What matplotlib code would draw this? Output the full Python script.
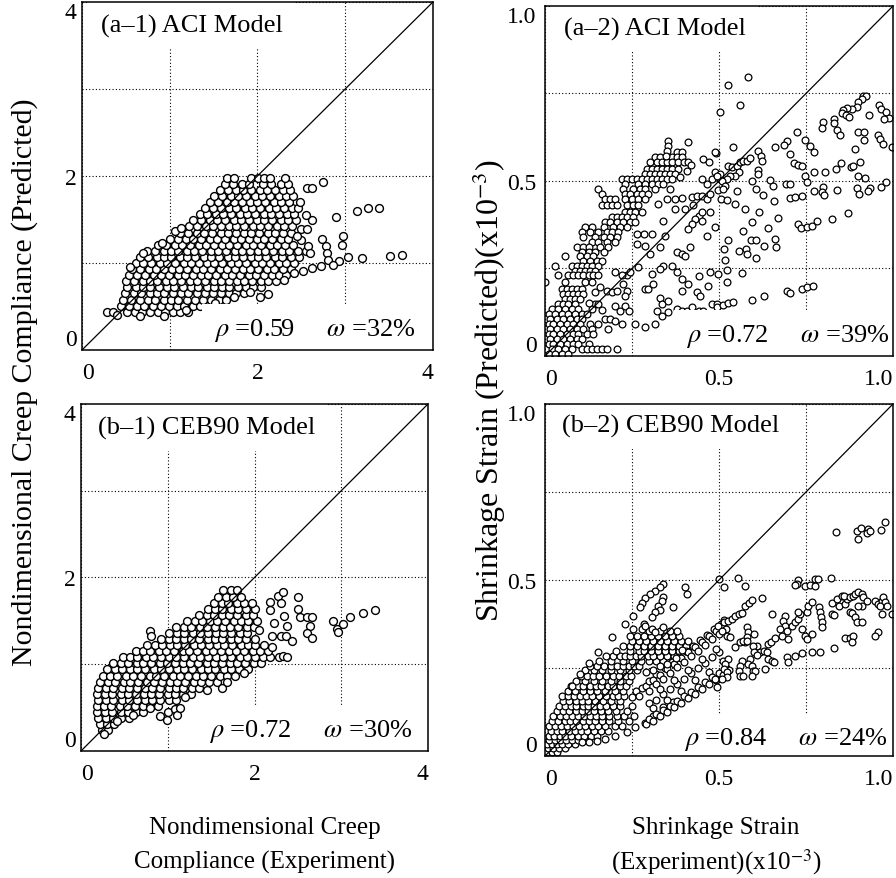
import matplotlib
matplotlib.use("Agg")
import matplotlib.pyplot as plt
import numpy as np

plt.rcParams["font.family"] = ["Liberation Serif", "DejaVu Serif"]
plt.rcParams["mathtext.fontset"] = "stix"

# ---------------- data ----------------
# creep panels: dense blob given row by row (y, [x ...]) plus loose points

a1_rows = [
    (0.44, [0.28, 0.35, 0.51, 0.60, 0.68, 0.77, 0.87, 0.95, 1.04, 1.12, 1.21]),
    (0.51, [0.44, 0.54, 0.63, 0.71, 0.81, 0.90, 0.99, 1.08, 1.16, 1.26, 1.35, 1.44]),
    (0.58, [0.47, 0.56, 0.66, 0.75, 0.83, 0.93, 1.02, 1.10, 1.20, 1.29, 1.38, 1.47, 1.56, 1.64]),
    (0.65, [0.49, 0.59, 0.67, 0.77, 0.86, 0.94, 1.04, 1.13, 1.21, 1.31, 1.40, 1.49, 1.58, 1.67, 1.75, 1.85]),
    (0.72, [0.51, 0.61, 0.70, 0.78, 0.88, 0.97, 1.05, 1.15, 1.24, 1.32, 1.42, 1.51, 1.60, 1.68, 1.78, 1.87, 1.95, 2.04]),
    (0.79, [0.50, 0.59, 0.69, 0.77, 0.86, 0.96, 1.04, 1.13, 1.23, 1.31, 1.40, 1.50, 1.58, 1.67, 1.77, 1.85, 1.94, 2.04, 2.12, 2.21]),
    (0.86, [0.54, 0.63, 0.72, 0.82, 0.90, 0.99, 1.09, 1.17, 1.26, 1.36, 1.44, 1.53, 1.63, 1.71, 1.80, 1.90, 1.98, 2.07, 2.17, 2.25, 2.33]),
    (0.93, [0.57, 0.66, 0.76, 0.84, 0.93, 1.03, 1.11, 1.20, 1.30, 1.38, 1.47, 1.57, 1.65, 1.74, 1.84, 1.92, 2.01, 2.11, 2.19, 2.29, 2.38]),
    (1.00, [0.61, 0.70, 0.79, 0.89, 0.97, 1.06, 1.16, 1.24, 1.33, 1.43, 1.51, 1.60, 1.70, 1.78, 1.87, 1.97, 2.05, 2.14, 2.24, 2.32, 2.42]),
    (1.07, [0.66, 0.75, 0.85, 0.93, 1.02, 1.12, 1.20, 1.29, 1.39, 1.47, 1.56, 1.66, 1.74, 1.83, 1.93, 2.01, 2.10, 2.20, 2.28, 2.38, 2.47]),
    (1.14, [0.74, 0.83, 0.93, 1.01, 1.10, 1.20, 1.28, 1.37, 1.47, 1.55, 1.64, 1.74, 1.82, 1.91, 2.01, 2.09, 2.18, 2.28, 2.36, 2.46, 2.55]),
    (1.21, [0.87, 0.96, 1.06, 1.14, 1.23, 1.33, 1.41, 1.50, 1.60, 1.68, 1.77, 1.87, 1.95, 2.04, 2.14, 2.22, 2.31, 2.41]),
    (1.28, [1.00, 1.09, 1.19, 1.27, 1.36, 1.46, 1.54, 1.63, 1.73, 1.81, 1.90, 2.00, 2.08, 2.17, 2.27, 2.35]),
    (1.35, [1.12, 1.21, 1.31, 1.39, 1.48, 1.58, 1.66, 1.75, 1.85, 1.93, 2.02, 2.12, 2.20, 2.29, 2.38]),
    (1.42, [1.22, 1.31, 1.41, 1.49, 1.58, 1.68, 1.76, 1.85, 1.95, 2.03, 2.12, 2.22, 2.30, 2.39]),
    (1.49, [1.27, 1.36, 1.46, 1.54, 1.63, 1.73, 1.81, 1.90, 2.00, 2.08, 2.17, 2.27, 2.35, 2.44]),
    (1.56, [1.34, 1.43, 1.53, 1.61, 1.70, 1.80, 1.88, 1.97, 2.07, 2.15, 2.24, 2.34, 2.42]),
    (1.63, [1.40, 1.49, 1.59, 1.67, 1.76, 1.86, 1.94, 2.03, 2.13, 2.21, 2.30, 2.39, 2.46]),
    (1.70, [1.46, 1.55, 1.65, 1.73, 1.82, 1.92, 2.00, 2.09, 2.19, 2.27, 2.36]),
    (1.77, [1.51, 1.60, 1.70, 1.78, 1.87, 1.97, 2.05, 2.14, 2.24, 2.32, 2.40]),
    (1.84, [1.57, 1.66, 1.76, 1.84, 1.93, 2.03, 2.11, 2.20, 2.29, 2.37]),
    (1.91, [1.63, 1.72, 1.82, 1.90, 2.06, 2.15, 2.27, 2.35]),
    (1.98, [1.65, 1.73, 1.93, 2.01, 2.08, 2.14, 2.31]),
]
a1_extra = [
    (0.91, 1.23), (1.06, 1.37), (1.13, 1.40), (2.56, 1.86), (2.62, 1.86), (2.75, 1.93),
    (3.13, 1.60), (3.26, 1.63), (3.38, 1.63), (2.90, 1.53), (2.62, 1.49), (2.50, 1.39),
    (2.56, 1.39), (2.97, 1.31), (2.74, 1.28), (2.96, 1.21), (2.78, 1.20), (2.79, 1.12),
    (2.80, 1.04), (3.03, 1.07), (3.19, 1.06), (3.51, 1.08), (3.65, 1.09), (2.93, 1.02),
    (2.62, 0.94), (2.72, 0.97), (2.52, 0.91), (2.42, 0.88), (2.58, 1.20), (2.60, 1.12),
    (2.50, 1.26), (2.45, 1.31), (2.55, 1.55), (2.48, 1.70), (2.12, 0.64), (2.03, 0.61),
    (2.30, 0.80), (2.86, 0.98), (0.40, 0.40), (0.66, 0.39), (0.93, 0.39), (1.18, 0.46),
    (1.52, 0.54), (1.73, 0.61), (1.92, 0.67), (0.55, 0.95), (0.70, 1.11),
]

b1_rows = [
    (0.24, [0.24, 0.31]),
    (0.31, [0.22, 0.30, 0.38]),
    (0.38, [0.20, 0.29, 0.37, 0.46, 0.55]),
    (0.45, [0.19, 0.28, 0.36, 0.46, 0.54, 0.63, 0.72]),
    (0.52, [0.18, 0.27, 0.35, 0.45, 0.53, 0.62, 0.72, 0.80, 0.89]),
    (0.59, [0.20, 0.29, 0.37, 0.47, 0.55, 0.64, 0.74, 0.82, 0.91, 1.01, 1.09]),
    (0.66, [0.19, 0.28, 0.36, 0.46, 0.54, 0.63, 0.73, 0.81, 0.90, 1.00, 1.08, 1.17, 1.27]),
    (0.73, [0.20, 0.29, 0.37, 0.47, 0.55, 0.64, 0.74, 0.82, 0.91, 1.01, 1.09, 1.18, 1.28, 1.36]),
    (0.80, [0.22, 0.31, 0.39, 0.49, 0.57, 0.66, 0.76, 0.84, 0.93, 1.03, 1.11, 1.20, 1.30, 1.38, 1.47, 1.57]),
    (0.87, [0.25, 0.34, 0.42, 0.52, 0.60, 0.69, 0.79, 0.87, 0.96, 1.06, 1.14, 1.23, 1.33, 1.41, 1.50, 1.60, 1.68, 1.77]),
    (0.94, [0.30, 0.39, 0.47, 0.57, 0.65, 0.74, 0.84, 0.92, 1.01, 1.11, 1.19, 1.28, 1.38, 1.46, 1.55, 1.65, 1.73, 1.82, 1.92]),
    (1.01, [0.37, 0.46, 0.54, 0.64, 0.72, 0.81, 0.91, 0.99, 1.08, 1.18, 1.26, 1.35, 1.45, 1.53, 1.62, 1.72, 1.80, 1.89, 1.99, 2.08]),
    (1.08, [0.48, 0.57, 0.65, 0.75, 0.83, 0.92, 1.02, 1.10, 1.19, 1.29, 1.37, 1.46, 1.56, 1.64, 1.73, 1.83, 1.91, 2.00, 2.10, 2.18, 2.28]),
    (1.15, [0.63, 0.72, 0.80, 0.90, 0.98, 1.07, 1.17, 1.25, 1.34, 1.44, 1.52, 1.61, 1.71, 1.79, 1.88, 1.98, 2.06, 2.16]),
    (1.22, [0.76, 0.85, 0.93, 1.03, 1.11, 1.20, 1.30, 1.38, 1.47, 1.57, 1.65, 1.74, 1.84, 1.92, 2.01, 2.11]),
    (1.29, [0.92, 1.01, 1.09, 1.19, 1.27, 1.36, 1.46, 1.54, 1.63, 1.73, 1.81, 1.90, 2.00]),
    (1.36, [1.02, 1.11, 1.19, 1.29, 1.37, 1.46, 1.56, 1.64, 1.73, 1.83, 1.91]),
    (1.43, [1.10, 1.19, 1.27, 1.37, 1.45, 1.54, 1.64, 1.72, 1.81, 1.91, 1.99]),
    (1.50, [1.22, 1.31, 1.39, 1.49, 1.57, 1.66, 1.76, 1.84, 1.93, 2.03]),
    (1.57, [1.36, 1.45, 1.53, 1.63, 1.71, 1.80, 1.90, 1.98]),
    (1.64, [1.46, 1.55, 1.63, 1.73, 1.81, 1.90, 2.00]),
    (1.71, [1.53, 1.62, 1.70, 1.80, 1.88, 1.97]),
    (1.78, [1.58, 1.67, 1.75, 1.85]),
    (1.85, [1.64, 1.73, 1.80]),
]
b1_extra = [
    (0.80, 1.38), (0.81, 1.33), (0.91, 0.40), (0.99, 0.36), (1.00, 0.45), (1.08, 0.48),
    (1.11, 0.42), (1.14, 0.50), (1.63, 0.73), (2.18, 1.72), (2.18, 1.62), (2.27, 1.79),
    (2.33, 1.83), (2.30, 1.70), (2.34, 1.56), (2.50, 1.77), (2.50, 1.64), (2.23, 1.47),
    (2.38, 1.44), (2.53, 1.54), (2.60, 1.54), (2.66, 1.54), (2.64, 1.44), (2.60, 1.36),
    (2.66, 1.30), (2.05, 1.39), (2.20, 1.33), (2.30, 1.33), (2.36, 1.33), (2.43, 1.27),
    (2.20, 1.20), (2.33, 1.10), (2.37, 1.08), (2.90, 1.50), (2.95, 1.41), (2.96, 1.37),
    (3.02, 1.46), (3.10, 1.54), (3.25, 1.59), (3.39, 1.63), (0.27, 0.20), (0.42, 0.34),
    (0.60, 0.42), (0.80, 0.49), (1.20, 0.62), (1.45, 0.70), (1.68, 0.80), (1.88, 0.90),
]

# shrinkage panels (x10^-3): packed group near the origin as rows, the rest as points
a2_rows = [
    (0.582, [0.378, 0.393]),
    (0.568, [0.316, 0.330, 0.364, 0.378, 0.393]),
    (0.553, [0.302, 0.321, 0.335, 0.350, 0.364, 0.383, 0.398, 0.412]),
    (0.534, [0.292, 0.307, 0.321, 0.335, 0.350, 0.364, 0.383]),
    (0.520, [0.287, 0.302, 0.316, 0.330, 0.345, 0.359, 0.374]),
    (0.507, [0.220, 0.235, 0.249, 0.263, 0.278, 0.292, 0.307, 0.321, 0.335, 0.350, 0.364]),
    (0.491, [0.230, 0.268, 0.287, 0.307, 0.326, 0.340]),
    (0.477, [0.153, 0.225, 0.254, 0.273, 0.287, 0.316]),
    (0.463, [0.163, 0.230, 0.244, 0.263, 0.278, 0.297]),
    (0.449, [0.172, 0.187, 0.201, 0.230, 0.249, 0.268, 0.287]),
    (0.430, [0.163, 0.177, 0.192, 0.206, 0.235, 0.254, 0.268]),
    (0.410, [0.230, 0.244, 0.259, 0.278]),
    (0.396, [0.192, 0.206, 0.220, 0.235, 0.254]),
    (0.382, [0.172, 0.187, 0.206, 0.225, 0.244, 0.259]),
    (0.368, [0.115, 0.134, 0.168, 0.196, 0.216, 0.235]),
    (0.353, [0.105, 0.129, 0.153, 0.177, 0.192, 0.211]),
    (0.339, [0.110, 0.144, 0.168, 0.187, 0.206]),
    (0.325, [0.134, 0.153, 0.177, 0.201]),
    (0.310, [0.091, 0.110, 0.125, 0.158, 0.182]),
    (0.296, [0.105, 0.125, 0.144, 0.168]),
    (0.287, [0.057, 0.101, 0.120, 0.139]),
    (0.272, [0.110, 0.129, 0.148, 0.163]),
    (0.258, [0.029, 0.077, 0.091, 0.105, 0.120, 0.134, 0.153]),
    (0.244, [0.086, 0.101, 0.115, 0.129, 0.144]),
    (0.230, [0.038, 0.067, 0.081, 0.096, 0.110, 0.125, 0.139, 0.153]),
    (0.210, [0.000, 0.057, 0.115, 0.134]),
    (0.191, [0.048, 0.062, 0.077, 0.091, 0.105]),
    (0.177, [0.053, 0.067, 0.081, 0.096, 0.110]),
    (0.163, [0.057, 0.072, 0.086, 0.101]),
    (0.149, [0.038, 0.053, 0.067, 0.086, 0.144, 0.153]),
    (0.134, [0.019, 0.038, 0.057, 0.077, 0.096, 0.134]),
    (0.120, [0.010, 0.029, 0.048, 0.067, 0.086, 0.105, 0.120]),
    (0.106, [0.014, 0.034, 0.053, 0.072, 0.091, 0.105]),
    (0.091, [0.010, 0.024, 0.043, 0.062, 0.081, 0.101, 0.129, 0.153]),
    (0.077, [0.014, 0.034, 0.053, 0.072, 0.091, 0.110, 0.134, 0.182]),
    (0.063, [0.010, 0.024, 0.043, 0.062, 0.081, 0.096, 0.120, 0.139]),
    (0.049, [0.014, 0.034, 0.053, 0.072, 0.091, 0.105]),
    (0.034, [0.010, 0.024, 0.043, 0.062, 0.081, 0.096, 0.125]),
    (0.020, [0.019, 0.038, 0.057, 0.077, 0.105, 0.120, 0.134, 0.148, 0.163, 0.177, 0.206]),
    (0.006, [0.010, 0.029, 0.048, 0.067]),
]
a2_pts = [
    (0.352, 0.615), (0.352, 0.600), (0.350, 0.586), (0.347, 0.570), (0.410, 0.612),
    (0.490, 0.580), (0.455, 0.563), (0.470, 0.555), (0.420, 0.547), (0.407, 0.529),
    (0.388, 0.510), (0.359, 0.477), (0.489, 0.525), (0.479, 0.506), (0.465, 0.491),
    (0.450, 0.506), (0.503, 0.506), (0.498, 0.473), (0.421, 0.453), (0.436, 0.458),
    (0.450, 0.458), (0.465, 0.449), (0.474, 0.463), (0.393, 0.451), (0.374, 0.449),
    (0.350, 0.449), (0.326, 0.434), (0.402, 0.420), (0.374, 0.420), (0.426, 0.430),
    (0.441, 0.400), (0.431, 0.391), (0.421, 0.377), (0.412, 0.363), (0.450, 0.410),
    (0.450, 0.387), (0.474, 0.410), (0.489, 0.368), (0.465, 0.342), (0.340, 0.387),
    (0.345, 0.344), (0.307, 0.349), (0.283, 0.349), (0.263, 0.349), (0.287, 0.315),
    (0.263, 0.320), (0.330, 0.310), (0.302, 0.292), (0.378, 0.296), (0.393, 0.292),
    (0.402, 0.287), (0.417, 0.310), (0.364, 0.258), (0.340, 0.258), (0.330, 0.249),
    (0.307, 0.234), (0.235, 0.231), (0.225, 0.206), (0.235, 0.187), (0.230, 0.172),
    (0.268, 0.253), (0.287, 0.191), (0.297, 0.191), (0.311, 0.206), (0.330, 0.167),
    (0.335, 0.148), (0.354, 0.158), (0.321, 0.129), (0.335, 0.115), (0.354, 0.125),
    (0.378, 0.134), (0.393, 0.129), (0.407, 0.129), (0.421, 0.139), (0.441, 0.129),
    (0.455, 0.129), (0.479, 0.149), (0.493, 0.148), (0.378, 0.240), (0.393, 0.220),
    (0.412, 0.206), (0.441, 0.229), (0.469, 0.200), (0.474, 0.239), (0.436, 0.182),
    (0.445, 0.172), (0.393, 0.186), (0.259, 0.091), (0.287, 0.082), (0.316, 0.091),
    (0.201, 0.144), (0.216, 0.129), (0.230, 0.144), (0.240, 0.129), (0.172, 0.106),
    (0.187, 0.106), (0.201, 0.101), (0.220, 0.091), (0.125, 0.150), (0.163, 0.130),
    (0.144, 0.182), (0.158, 0.196), (0.177, 0.186), (0.192, 0.182), (0.206, 0.187),
    (0.244, 0.239), (0.201, 0.239), (0.220, 0.230),
    (0.584, 0.798), (0.525, 0.775), (0.560, 0.717), (0.503, 0.696), (0.915, 0.742),
    (0.921, 0.742), (0.910, 0.734), (0.900, 0.725), (0.896, 0.710), (0.881, 0.706),
    (0.867, 0.708), (0.855, 0.704), (0.853, 0.694), (0.864, 0.687), (0.874, 0.682),
    (0.960, 0.717), (0.965, 0.706), (0.979, 0.696), (0.987, 0.679), (0.973, 0.677),
    (0.931, 0.687), (0.829, 0.677), (0.831, 0.666), (0.840, 0.646), (0.849, 0.630),
    (0.800, 0.668), (0.795, 0.650), (0.723, 0.639), (0.900, 0.639), (0.916, 0.641),
    (0.916, 0.618), (0.958, 0.630), (0.962, 0.620), (0.970, 0.605), (0.998, 0.596),
    (0.891, 0.590), (0.747, 0.618), (0.761, 0.601), (0.773, 0.582), (0.695, 0.615),
    (0.687, 0.603), (0.661, 0.596), (0.704, 0.577), (0.714, 0.551), (0.728, 0.547),
    (0.739, 0.544), (0.611, 0.587), (0.621, 0.572), (0.623, 0.558), (0.541, 0.598),
    (0.489, 0.582), (0.850, 0.551), (0.879, 0.539), (0.886, 0.544), (0.906, 0.555),
    (0.835, 0.534), (0.805, 0.527), (0.774, 0.525), (0.747, 0.513), (0.752, 0.498),
    (0.900, 0.515), (0.918, 0.508), (0.896, 0.480), (0.902, 0.463), (0.934, 0.480),
    (0.929, 0.472), (0.965, 0.482), (0.980, 0.498), (0.840, 0.475), (0.798, 0.482),
    (0.797, 0.468), (0.803, 0.460), (0.774, 0.472), (0.693, 0.491), (0.704, 0.490),
    (0.647, 0.503), (0.656, 0.487), (0.594, 0.499), (0.607, 0.477), (0.627, 0.461),
    (0.704, 0.451), (0.718, 0.453), (0.738, 0.458), (0.659, 0.444), (0.551, 0.472),
    (0.506, 0.449), (0.522, 0.446), (0.546, 0.433), (0.575, 0.420), (0.616, 0.410),
    (0.669, 0.393), (0.595, 0.384), (0.728, 0.377), (0.736, 0.365), (0.752, 0.368),
    (0.766, 0.370), (0.781, 0.387), (0.826, 0.391), (0.872, 0.409), (0.642, 0.365),
    (0.570, 0.356), (0.661, 0.334), (0.664, 0.310), (0.630, 0.315), (0.592, 0.330),
    (0.605, 0.330), (0.527, 0.330), (0.515, 0.306), (0.556, 0.301), (0.578, 0.306),
    (0.580, 0.291), (0.606, 0.279), (0.517, 0.275), (0.522, 0.247), (0.522, 0.210),
    (0.498, 0.234), (0.565, 0.237), (0.493, 0.139), (0.510, 0.146), (0.525, 0.151),
    (0.541, 0.153), (0.594, 0.160), (0.630, 0.172), (0.694, 0.187), (0.704, 0.180),
    (0.739, 0.191), (0.754, 0.196), (0.769, 0.199),
    (0.527, 0.544), (0.536, 0.539), (0.551, 0.544), (0.560, 0.553), (0.570, 0.558),
    (0.580, 0.558), (0.589, 0.565), (0.556, 0.525), (0.546, 0.515), (0.532, 0.515),
    (0.522, 0.506), (0.508, 0.501), (0.503, 0.520), (0.493, 0.515), (0.517, 0.487),
    (0.512, 0.477), (0.613, 0.530), (0.611, 0.520),
]

# b-2: packed wedge at the origin, a packed cluster on the diagonal, three streaks
b2_rows = [
    (0.010, [0.005, 0.019, 0.034]),
    (0.022, [0.008, 0.024, 0.040, 0.058]),
    (0.034, [0.005, 0.019, 0.034, 0.050, 0.066, 0.085]),
    (0.046, [0.012, 0.028, 0.044, 0.060, 0.078, 0.096, 0.115]),
    (0.058, [0.010, 0.026, 0.042, 0.058, 0.076, 0.094, 0.112, 0.132, 0.150]),
    (0.072, [0.018, 0.034, 0.050, 0.068, 0.086, 0.104, 0.122, 0.140, 0.160, 0.182]),
    (0.086, [0.012, 0.028, 0.046, 0.062, 0.080, 0.098, 0.116, 0.134, 0.152, 0.172, 0.200, 0.222]),
    (0.100, [0.020, 0.038, 0.056, 0.072, 0.090, 0.108, 0.126, 0.144, 0.163, 0.185, 0.210, 0.240]),
    (0.115, [0.024, 0.042, 0.060, 0.077, 0.094, 0.112, 0.128, 0.146, 0.164, 0.184, 0.206, 0.228, 0.255]),
    (0.129, [0.034, 0.052, 0.070, 0.088, 0.106, 0.124, 0.142, 0.160, 0.182, 0.205, 0.235]),
    (0.143, [0.040, 0.056, 0.074, 0.090, 0.108, 0.124, 0.142, 0.158, 0.176, 0.195, 0.214, 0.250]),
    (0.157, [0.052, 0.070, 0.088, 0.106, 0.124, 0.144, 0.166, 0.190, 0.215]),
    (0.171, [0.050, 0.066, 0.084, 0.100, 0.118, 0.136, 0.155, 0.174, 0.194, 0.210, 0.228]),
    (0.186, [0.066, 0.086, 0.110, 0.130, 0.150, 0.172, 0.200, 0.225]),
    (0.200, [0.074, 0.094, 0.110, 0.128, 0.146, 0.162, 0.180, 0.196, 0.214, 0.232]),
    (0.214, [0.090, 0.115, 0.140, 0.165, 0.190, 0.215, 0.240]),
    (0.228, [0.104, 0.122, 0.138, 0.156, 0.174, 0.194, 0.212, 0.232, 0.248]),
    (0.243, [0.115, 0.140, 0.165, 0.190, 0.215, 0.240, 0.265]),
    (0.257, [0.128, 0.148, 0.170, 0.190, 0.208, 0.224, 0.240, 0.255, 0.270]),
    (0.270, [0.155, 0.190, 0.225, 0.250, 0.275, 0.300, 0.320, 0.340]),
    (0.285, [0.175, 0.195, 0.215, 0.230, 0.245, 0.260, 0.275, 0.295, 0.310, 0.330, 0.350, 0.370]),
    (0.299, [0.205, 0.245, 0.270, 0.285, 0.305, 0.325, 0.345, 0.365, 0.385, 0.405]),
    (0.313, [0.225, 0.245, 0.265, 0.285, 0.305, 0.325, 0.345, 0.365, 0.385, 0.405]),
    (0.327, [0.250, 0.270, 0.290, 0.310, 0.330, 0.350, 0.370, 0.390, 0.410]),
    (0.341, [0.245, 0.265, 0.285, 0.305, 0.325, 0.345, 0.365, 0.385]),
    (0.355, [0.300, 0.330, 0.360, 0.380]),
]
b2_pts = [
    # lowest streak and upper outliers near the origin
    (0.105, 0.039), (0.125, 0.039), (0.148, 0.044), (0.172, 0.048), (0.201, 0.058),
    (0.235, 0.067), (0.259, 0.081), (0.287, 0.095), (0.311, 0.114), (0.340, 0.138),
    (0.369, 0.152), (0.077, 0.200), (0.100, 0.233), (0.127, 0.264), (0.153, 0.295),
    (0.192, 0.337),
    # streak above the diagonal
    (0.340, 0.489), (0.330, 0.479), (0.316, 0.470), (0.302, 0.460), (0.287, 0.448),
    (0.278, 0.436), (0.273, 0.424), (0.340, 0.451), (0.335, 0.441), (0.326, 0.427),
    (0.330, 0.416), (0.316, 0.408), (0.307, 0.394), (0.369, 0.422), (0.402, 0.479),
    (0.407, 0.460), (0.254, 0.399), (0.230, 0.375), (0.254, 0.361), (0.283, 0.375),
    (0.278, 0.361), (0.287, 0.370), (0.307, 0.361), (0.316, 0.351), (0.340, 0.366),
    # middle streak
    (0.250, 0.168), (0.260, 0.185), (0.270, 0.170), (0.280, 0.192), (0.290, 0.199),
    (0.300, 0.186), (0.300, 0.214), (0.310, 0.215), (0.320, 0.204), (0.320, 0.232),
    (0.330, 0.231), (0.340, 0.220), (0.345, 0.250), (0.350, 0.246), (0.360, 0.236),
    (0.365, 0.266), (0.370, 0.262), (0.380, 0.252), (0.385, 0.282), (0.390, 0.278),
    (0.400, 0.268), (0.405, 0.298), (0.410, 0.294), (0.420, 0.283), (0.425, 0.313),
    (0.430, 0.309), (0.440, 0.299), (0.445, 0.330), (0.450, 0.325), (0.460, 0.315),
    (0.465, 0.345), (0.470, 0.341), (0.480, 0.331), (0.485, 0.360), (0.490, 0.356),
    (0.500, 0.346), (0.505, 0.376), (0.510, 0.372), (0.520, 0.362), (0.515, 0.385),
    # points between the streaks
    (0.300, 0.150), (0.320, 0.160), (0.340, 0.175), (0.360, 0.190), (0.380, 0.205),
    (0.400, 0.220), (0.420, 0.235), (0.440, 0.250), (0.460, 0.265), (0.480, 0.280),
    (0.500, 0.295), (0.310, 0.135), (0.350, 0.160), (0.390, 0.185), (0.430, 0.215),
    (0.470, 0.240), (0.510, 0.270), (0.330, 0.190), (0.370, 0.215), (0.410, 0.245),
    (0.450, 0.275), (0.490, 0.305), (0.290, 0.240), (0.310, 0.245), (0.330, 0.255),
    (0.350, 0.262), (0.375, 0.278), (0.395, 0.300),
    # lower streak
    (0.290, 0.090), (0.300, 0.104), (0.310, 0.100), (0.320, 0.118), (0.330, 0.114),
    (0.340, 0.130), (0.350, 0.125), (0.360, 0.143), (0.370, 0.138), (0.380, 0.156),
    (0.390, 0.150), (0.400, 0.170), (0.410, 0.164), (0.420, 0.183), (0.430, 0.177),
    (0.440, 0.197), (0.450, 0.190), (0.460, 0.210), (0.470, 0.204), (0.480, 0.223),
    (0.490, 0.216), (0.500, 0.236), (0.510, 0.230), (0.520, 0.250), (0.530, 0.244),
    # right half
    (0.835, 0.635), (0.896, 0.640), (0.907, 0.647), (0.900, 0.616), (0.929, 0.645),
    (0.926, 0.634), (0.935, 0.640), (0.965, 0.643), (0.978, 0.666), (0.554, 0.506),
    (0.515, 0.481), (0.575, 0.484), (0.500, 0.503), (0.726, 0.501), (0.723, 0.489),
    (0.718, 0.486), (0.747, 0.484), (0.760, 0.486), (0.776, 0.503), (0.784, 0.503),
    (0.776, 0.482), (0.822, 0.506), (0.623, 0.449), (0.651, 0.404),
    (0.498, 0.370), (0.513, 0.380), (0.527, 0.384), (0.536, 0.389), (0.546, 0.399),
    (0.556, 0.403), (0.565, 0.406), (0.508, 0.356), (0.522, 0.342), (0.532, 0.337),
    (0.575, 0.425), (0.585, 0.435), (0.596, 0.442),
    (0.580, 0.366), (0.584, 0.351), (0.580, 0.337), (0.575, 0.323), (0.601, 0.347),
    (0.690, 0.399), (0.685, 0.384), (0.690, 0.370), (0.694, 0.356), (0.676, 0.361),
    (0.680, 0.342), (0.697, 0.332), (0.709, 0.370), (0.718, 0.380), (0.728, 0.389),
    (0.733, 0.403), (0.739, 0.361), (0.747, 0.342), (0.752, 0.408), (0.757, 0.427),
    (0.766, 0.438), (0.728, 0.410), (0.787, 0.422), (0.790, 0.408), (0.793, 0.394),
    (0.795, 0.380), (0.797, 0.366), (0.766, 0.347), (0.752, 0.332), (0.824, 0.435),
    (0.826, 0.403), (0.831, 0.401), (0.838, 0.446), (0.852, 0.454), (0.846, 0.427),
    (0.862, 0.432), (0.867, 0.446), (0.860, 0.455), (0.877, 0.451), (0.886, 0.454),
    (0.891, 0.460), (0.900, 0.465), (0.910, 0.460), (0.915, 0.451), (0.924, 0.441),
    (0.910, 0.427), (0.900, 0.427), (0.875, 0.408), (0.881, 0.405), (0.891, 0.394),
    (0.896, 0.380), (0.910, 0.382), (0.948, 0.441), (0.958, 0.432), (0.967, 0.441),
    (0.972, 0.451), (0.977, 0.437), (0.963, 0.427), (0.982, 0.427), (0.967, 0.403),
    (0.996, 0.403), (0.958, 0.351), (0.948, 0.342), (0.862, 0.334), (0.877, 0.334),
    (0.886, 0.340), (0.881, 0.323), (0.831, 0.306), (0.642, 0.318), (0.650, 0.325),
    (0.661, 0.334), (0.608, 0.313), (0.618, 0.295), (0.628, 0.299), (0.637, 0.295),
    (0.642, 0.276), (0.651, 0.271), (0.659, 0.268), (0.632, 0.247), (0.599, 0.313),
    (0.601, 0.295), (0.608, 0.287), (0.694, 0.280), (0.699, 0.266), (0.718, 0.285),
    (0.739, 0.292), (0.766, 0.295), (0.790, 0.296), (0.589, 0.276), (0.584, 0.261),
    (0.594, 0.257), (0.599, 0.242), (0.603, 0.242), (0.565, 0.271), (0.560, 0.257),
    (0.556, 0.242), (0.560, 0.228), (0.570, 0.228), (0.527, 0.276), (0.517, 0.261),
    (0.513, 0.247), (0.522, 0.238), (0.522, 0.223), (0.508, 0.219), (0.546, 0.309),
    (0.560, 0.323), (0.570, 0.328), (0.580, 0.328), (0.594, 0.228), (0.489, 0.219),
    (0.493, 0.195),
]

panel_titles = ["(a\u20131) ACI Model", "(a\u20132) ACI Model",
                "(b\u20131) CEB90 Model", "(b\u20132) CEB90 Model"]
panel_rho = [0.59, 0.72, 0.72, 0.84]
panel_omega = [32, 39, 30, 24]

creep_ticks = [0, 1, 2, 3, 4]
creep_labels = ["0", "", "2", "", "4"]
shr_ticks = [0, 0.25, 0.5, 0.75, 1.0]
shr_labels = ["0", "", "0.5", "", "1.0"]


def flatten(rows, extra):
    xs, ys = [], []
    for y, row in rows:
        xs += row
        ys += [y] * len(row)
    for x, y in extra:
        xs.append(x)
        ys.append(y)
    return np.array(xs), np.array(ys)


def draw_panel(fig, rect, xy, lim, ticks, labels, title, rho, omega,
               title_xy, stat_xy, ypad, msize, mlw):
    ax = fig.add_axes(rect)
    ax.set_xlim(0, lim)
    ax.set_ylim(0, lim)
    ax.set_xticks(ticks)
    ax.set_yticks(ticks)
    ax.set_xticklabels(labels)
    ax.set_yticklabels(labels)
    ax.tick_params(length=0, labelsize=17)
    ax.tick_params(axis="x", pad=9)
    ax.tick_params(axis="y", pad=ypad)
    xl = ax.get_xticklabels()
    xl[0].set_ha("left")
    xl[-1].set_ha("right")
    yl = ax.get_yticklabels()
    yl[0].set_va("bottom")
    yl[-1].set_va("top")
    ax.grid(True, color="black", linestyle=(0, (1, 2)), linewidth=0.8)
    ax.set_axisbelow(True)
    for sp in ax.spines.values():
        sp.set_linewidth(1.1)
        sp.set_zorder(6)

    x, y = xy
    ax.scatter(x, y, s=msize, facecolors="white", edgecolors="black",
               linewidths=mlw, zorder=2)
    ax.plot([0, lim], [0, lim], color="black", lw=0.9, zorder=3)

    box = dict(facecolor="white", edgecolor="none", boxstyle="square,pad=0.45")
    ax.text(title_xy[0], title_xy[1], title, transform=ax.transAxes,
            fontsize=19, ha="left", va="top", bbox=box, zorder=4, clip_on=True)
    ax.text(stat_xy[0], stat_xy[1],
            r"$\rho$ =%.2f     $\omega$ =%d%%" % (rho, omega),
            transform=ax.transAxes, fontsize=19, ha="right", va="bottom",
            bbox=box, zorder=4, clip_on=True)
    return ax


fig = plt.figure(figsize=(8.96, 8.79), dpi=100)

draw_panel(fig, [0.0915, 0.6007, 0.3917, 0.3959], flatten(a1_rows, a1_extra), 4,
           creep_ticks, creep_labels, panel_titles[0], panel_rho[0], panel_omega[0],
           (0.055, 0.965), (0.95, 0.02), 4, 32, 1.0)
draw_panel(fig, [0.6083, 0.5939, 0.3884, 0.3982], flatten(a2_rows, a2_pts), 1.0,
           shr_ticks, shr_labels, panel_titles[1], panel_rho[1], panel_omega[1],
           (0.055, 0.97), (0.99, 0.02), 6, 24, 0.9)
draw_panel(fig, [0.0904, 0.1445, 0.3873, 0.3948], flatten(b1_rows, b1_extra), 4,
           creep_ticks, creep_labels, panel_titles[2], panel_rho[2], panel_omega[2],
           (0.048, 0.965), (0.955, 0.02), 4, 32, 1.0)
draw_panel(fig, [0.6083, 0.1388, 0.3884, 0.4005], flatten(b2_rows, b2_pts), 1.0,
           shr_ticks, shr_labels, panel_titles[3], panel_rho[3], panel_omega[3],
           (0.048, 0.972), (0.985, 0.01), 6, 24, 0.9)

fig.text(25 / 896, 1 - 382 / 879, "Nondimensional Creep Compliance (Predicted)",
         rotation=90, ha="center", va="center", fontsize=21.5)
fig.text(489 / 896, 1 - 391 / 879, r"Shrinkage Strain (Predicted)(x10$^{-3}$)",
         rotation=90, ha="center", va="center", fontsize=23)
fig.text(265 / 896, 1 - 828 / 879, "Nondimensional Creep",
         ha="center", va="center", fontsize=18)
fig.text(265 / 896, 1 - 862 / 879, "Compliance (Experiment)",
         ha="center", va="center", fontsize=18)
fig.text(716 / 896, 1 - 828 / 879, "Shrinkage Strain",
         ha="center", va="center", fontsize=18)
fig.text(716 / 896, 1 - 862 / 879, r"(Experiment)(x10$^{-3}$)",
         ha="center", va="center", fontsize=18)

fig.savefig("out.png", dpi=100)
